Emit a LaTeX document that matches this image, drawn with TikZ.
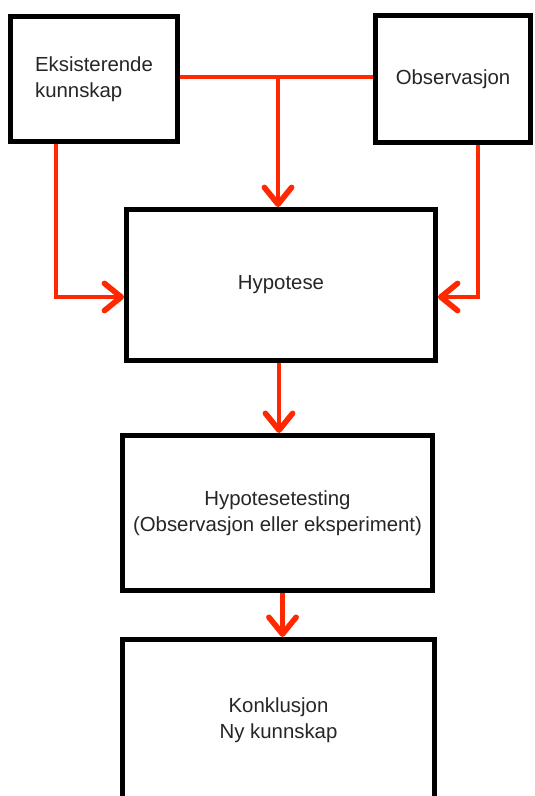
\documentclass[tikz,border=0pt]{standalone}
\usepackage{fontspec}
\setmainfont{Liberation Sans}
\usepackage{xcolor}
\usetikzlibrary{arrows.meta, positioning, calc}
\definecolor{flowred}{RGB}{255,40,0}
\tikzset{
    stagebox/.style={
        rectangle,
        draw=black,
        line width=3.5pt,
        fill=white,
        text=black!85,
        font=\fontsize{14.5}{18.5}\selectfont
    },
    flow/.style={
        draw=flowred,
        line width=3pt
    },
    flowarrow/.style={
        flow,
        -{Straight Barb[length=0.42cm, width=0.68cm, line width=4pt, round]}
    }
}
\begin{document}
\begin{tikzpicture}

\useasboundingbox (0,0) rectangle (13.375,-19.9);
\clip (0,0) rectangle (13.375,-19.9);

% Sources
\node[stagebox, minimum width=4.175cm, minimum height=3.125cm, align=left] (eks) at (2.35,-1.975) {Eksisterende\\kunnskap};
\node[stagebox, minimum width=3.875cm, minimum height=3.175cm] (obs) at (11.325,-1.975) {Observasjon};

% Hypothesis chain
\node[stagebox, minimum width=7.725cm, minimum height=3.775cm] (hyp) at (7.025,-7.125) {Hypotese};
\node[stagebox, below=1.75cm of hyp, xshift=-0.0875cm, minimum width=7.75cm, minimum height=3.875cm, align=center] (test) {Hypotesetesting\\(Observasjon eller eksperiment)};
\node[stagebox, below=1.1cm of test, xshift=0.025cm, minimum width=7.8cm, minimum height=4.05cm, align=center] (konk) {Konklusjon\\Ny kunnskap};

% Connectors
\coordinate (joint) at (6.95,-1.925);
\draw[flow] (eks.east |- joint) -- (obs.west |- joint);
\draw[flowarrow] (joint) -- (joint |- hyp.north);
\draw[flowarrow] ([xshift=-0.95cm]eks.south) |- ([yshift=-0.3cm]hyp.west);
\draw[flowarrow] ([xshift=0.625cm]obs.south) |- ([yshift=-0.3cm]hyp.east);
\draw[flowarrow] ([xshift=-0.05cm]hyp.south) -- ([xshift=-0.05cm]hyp.south |- test.north);
\draw[flowarrow] ([xshift=0.125cm]test.south) -- ([xshift=0.125cm]test.south |- konk.north);

\end{tikzpicture}
\end{document}
